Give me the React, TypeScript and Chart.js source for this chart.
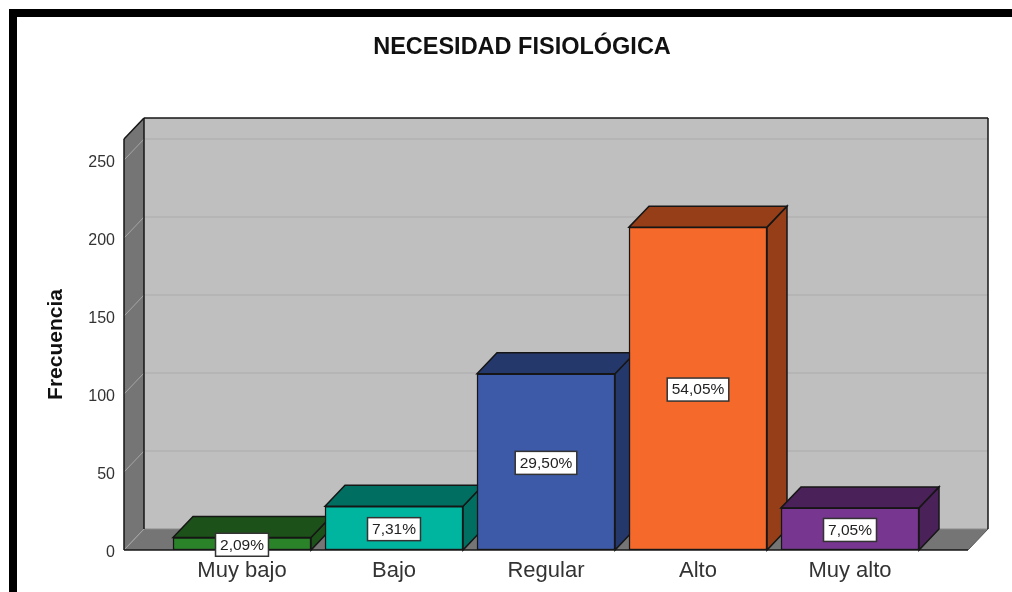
import React, { useEffect, useRef } from "react";
import { Chart, registerables } from "chart.js";

Chart.register(...registerables);

const categories = ["Muy bajo", "Bajo", "Regular", "Alto", "Muy alto"];
const frequencies = [8, 28, 113, 207, 27];
const percentLabels = ["2,09%", "7,31%", "29,50%", "54,05%", "7,05%"];
const tickValues = [0, 50, 100, 150, 200, 250];
const frontColors = ["#2a8328", "#00b5a0", "#3d5aa8", "#f5692b", "#77368f"];
const sideColors = ["#1c5219", "#006e60", "#25386c", "#963e18", "#4a2159"];

const FONT = "'Liberation Sans', Arial, sans-serif";
const DEPTH_X = 20;
const DEPTH_Y = 21;
const WALL_SIDE = 42; // distance from category area to the front corners of the floor
const OUT = "#161616";

function poly(ctx: CanvasRenderingContext2D, pts: number[][], fill: string | null, stroke: string | null, lw = 1.5) {
  ctx.beginPath();
  pts.forEach((p, i) => (i ? ctx.lineTo(p[0], p[1]) : ctx.moveTo(p[0], p[1])));
  ctx.closePath();
  if (fill) {
    ctx.fillStyle = fill;
    ctx.fill();
  }
  if (stroke) {
    ctx.strokeStyle = stroke;
    ctx.lineWidth = lw;
    ctx.stroke();
  }
}

function line(ctx: CanvasRenderingContext2D, x1: number, y1: number, x2: number, y2: number, c: string, lw = 1.5) {
  ctx.beginPath();
  ctx.moveTo(x1, y1);
  ctx.lineTo(x2, y2);
  ctx.strokeStyle = c;
  ctx.lineWidth = lw;
  ctx.stroke();
}

const box3d = {
  id: "box3d",
  beforeDatasetsDraw(chart: any) {
    const { ctx, chartArea: a, scales } = chart;
    const y = scales.y;
    const L = a.left - WALL_SIDE;
    const R = a.right + WALL_SIDE;
    const T = a.top;
    const B = a.bottom;
    ctx.save();
    // back wall
    poly(ctx, [[L + DEPTH_X, T - DEPTH_Y], [R + DEPTH_X, T - DEPTH_Y], [R + DEPTH_X, B - DEPTH_Y], [L + DEPTH_X, B - DEPTH_Y]], "#bfbfbf", null);
    // left wall
    poly(ctx, [[L, T], [L + DEPTH_X, T - DEPTH_Y], [L + DEPTH_X, B - DEPTH_Y], [L, B]], "#757575", null);
    // floor
    poly(ctx, [[L, B], [L + DEPTH_X, B - DEPTH_Y], [R + DEPTH_X, B - DEPTH_Y], [R, B]], "#757575", null);
    // grid
    tickValues.forEach((v) => {
      const py = y.getPixelForValue(v);
      if (v > 0) {
        line(ctx, L, py, L + DEPTH_X, py - DEPTH_Y, "#a6a6a6", 1);
        line(ctx, L + DEPTH_X, py - DEPTH_Y, R + DEPTH_X, py - DEPTH_Y, "#b2b2b2", 1.5);
      }
    });
    line(ctx, L, B, L + DEPTH_X, B - DEPTH_Y, "#a6a6a6", 1);
    line(ctx, L + DEPTH_X, B - DEPTH_Y, R + DEPTH_X, B - DEPTH_Y, "#8a8a8a", 1);
    line(ctx, R, B, R + DEPTH_X, B - DEPTH_Y, "#555555", 1);
    // outlines
    line(ctx, L, B, L, T, OUT);
    line(ctx, L, T, L + DEPTH_X, T - DEPTH_Y, OUT);
    line(ctx, L + DEPTH_X, T - DEPTH_Y, L + DEPTH_X, B - DEPTH_Y, OUT);
    line(ctx, L + DEPTH_X, T - DEPTH_Y, R + DEPTH_X, T - DEPTH_Y, OUT);
    line(ctx, R + DEPTH_X, T - DEPTH_Y, R + DEPTH_X, B - DEPTH_Y, OUT);
    line(ctx, L, B, R, B, OUT);
    // side and top faces of the bars, left to right
    const meta = chart.getDatasetMeta(0);
    meta.data.forEach((bar: any, i: number) => {
      const half = bar.width / 2;
      const x0 = bar.x - half;
      const x1 = bar.x + half;
      const top = bar.y;
      const base = bar.base;
      poly(ctx, [[x1, top], [x1 + DEPTH_X, top - DEPTH_Y], [x1 + DEPTH_X, base - DEPTH_Y], [x1, base]], sideColors[i], OUT);
      poly(ctx, [[x0, top], [x0 + DEPTH_X, top - DEPTH_Y], [x1 + DEPTH_X, top - DEPTH_Y], [x1, top]], sideColors[i], OUT);
    });
    ctx.restore();
  },
  afterDatasetsDraw(chart: any) {
    const { ctx } = chart;
    const meta = chart.getDatasetMeta(0);
    ctx.save();
    ctx.font = `15.5px ${FONT}`;
    ctx.textAlign = "center";
    ctx.textBaseline = "middle";
    meta.data.forEach((bar: any, i: number) => {
      const cy = (bar.y + bar.base) / 2 + 1;
      const text = percentLabels[i];
      const w = ctx.measureText(text).width + 9;
      const h = 23;
      ctx.fillStyle = "#ffffff";
      ctx.fillRect(bar.x - w / 2, cy - h / 2, w, h);
      ctx.strokeStyle = "#333333";
      ctx.lineWidth = 1.5;
      ctx.strokeRect(bar.x - w / 2, cy - h / 2, w, h);
      ctx.fillStyle = "#222222";
      ctx.fillText(text, bar.x, cy + 0.5);
    });
    ctx.restore();
  },
};

export default function App() {
  const ref = useRef<HTMLCanvasElement>(null);
  useEffect(() => {
    const chart = new Chart(ref.current!, {
      type: "bar",
      data: {
        labels: categories,
        datasets: [
          {
            label: "Frecuencia",
            data: frequencies,
            backgroundColor: frontColors,
            borderColor: OUT,
            borderWidth: 1.5,
            borderSkipped: false,
            barThickness: 138,
            yAxisID: "y",
          },
        ],
      },
      options: {
        responsive: false,
        animation: false,
        layout: { autoPadding: false, padding: { left: 32, right: 0, top: 0, bottom: 0 } },
        plugins: {
          legend: { display: false },
          tooltip: { enabled: false },
          title: {
            display: true,
            text: "NECESIDAD FISIOLÓGICA",
            color: "#111111",
            font: { family: FONT, size: 23.5, weight: "bold" },
            padding: { top: 33.9, bottom: 76.9 },
          },
        },
        scales: {
          x: {
            grid: { display: false },
            border: { display: false },
            ticks: {
              autoSkip: false,
              maxRotation: 0,
              color: "#333333",
              padding: 0,
              font: { family: FONT, size: 22 },
            },
            afterFit(axis: any) {
              axis.height = 42;
            },
          },
          y: {
            min: 0,
            max: 263.5,
            grid: { display: false, drawTicks: false },
            border: { display: false },
            title: {
              display: true,
              text: "Frecuencia",
              color: "#111111",
              font: { family: FONT, size: 21, weight: "bold" },
              padding: { top: 11.4, bottom: 0 },
            },
            ticks: {
              color: "#333333",
              padding: 51,
              font: { family: FONT, size: 16, lineHeight: 0.3 },
              // an empty first line nudges the number slightly below its gridline, as in the source
              callback: (value: number) => ["", String(value)],
            },
            afterBuildTicks(axis: any) {
              axis.ticks = tickValues.map((value) => ({ value }));
            },
            afterFit(axis: any) {
              axis.width = 134;
              axis.paddingTop = 0;
              axis.paddingBottom = 0;
            },
          },
          y1: {
            position: "right",
            display: true,
            grid: { display: false, drawTicks: false },
            border: { display: false },
            ticks: { display: false },
            afterFit(axis: any) {
              axis.width = 86;
            },
          },
        },
      },
      plugins: [box3d],
    } as any);
    return () => chart.destroy();
  }, []);

  return (
    <div style={{ position: "absolute", left: 0, top: 0, width: 1012, height: 592, overflow: "hidden", background: "#ffffff" }}>
      <div
        style={{
          position: "absolute",
          left: 9,
          top: 9,
          width: 1003,
          height: 583,
          boxSizing: "border-box",
          borderTop: "8px solid #000000",
          borderLeft: "8px solid #000000",
        }}
      />
      <canvas ref={ref} width={1012} height={592} style={{ position: "absolute", left: 0, top: 0, display: "block" }} />
    </div>
  );
}
